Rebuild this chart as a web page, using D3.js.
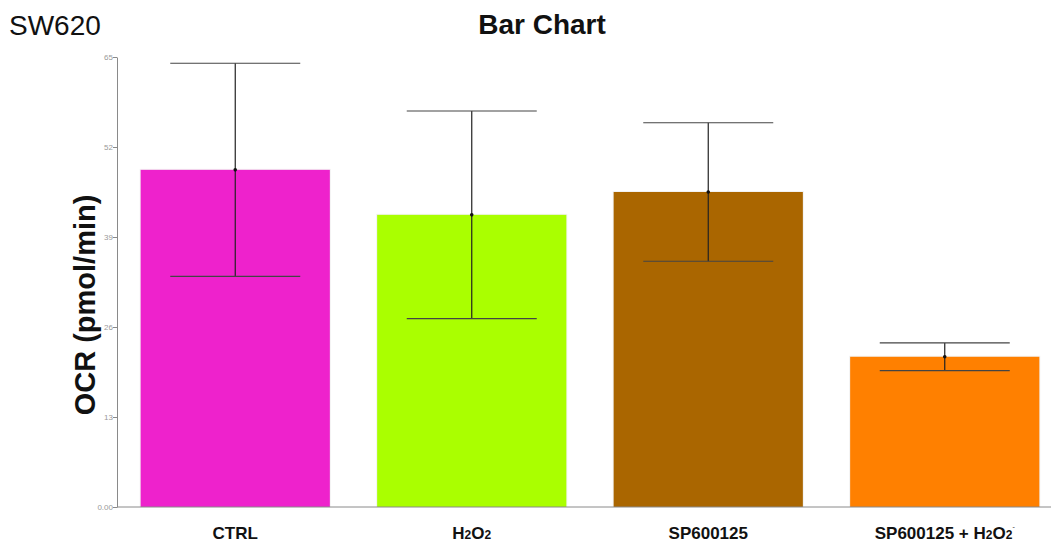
<!DOCTYPE html>
<html>
<head>
<meta charset="utf-8">
<script src="https://cdn.jsdelivr.net/npm/d3@7"></script>
<style>
  html, body { margin: 0; padding: 0; background: #fff; }
  svg { display: block; font-family: "Liberation Sans", Arial, sans-serif; }
</style>
</head>
<body>
<svg id="chart" width="1051" height="543"></svg>
<script>
// OCR measurements for SW620 cells
const categories = ["CTRL", "H2O2", "SP600125", "SP600125 + H2O2"];
const means = [48.7, 42.2, 45.5, 21.7];
const errors = [15.4, 15.0, 10.0, 2.0];
const colors = ["#ee22cc", "#aaff00", "#aa6600", "#ff8000"];
const yTicks = [0, 13, 26, 39, 52, 65];
const yTickLabels = ["0.00", "13", "26", "39", "52", "65"];

const svg = d3.select("#chart");

const x = d3.scaleBand()
  .domain(categories)
  .range([117, 1063])
  .paddingInner(0.2)
  .paddingOuter(0.1);

const y = d3.scaleLinear()
  .domain([0, 65])
  .range([507, 57]);

// Bars with a faint light halo
const bars = svg.append("g");
bars.selectAll("rect.halo")
  .data(categories)
  .enter().append("rect")
  .attr("x", d => x(d) - 1)
  .attr("y", (d, i) => y(means[i]) - 1)
  .attr("width", x.bandwidth() + 2)
  .attr("height", (d, i) => y(0) - y(means[i]) + 1)
  .attr("fill", "#f2f2f2");
bars.selectAll("rect.bar")
  .data(categories)
  .enter().append("rect")
  .attr("class", "bar")
  .attr("x", d => x(d))
  .attr("y", (d, i) => y(means[i]))
  .attr("width", x.bandwidth())
  .attr("height", (d, i) => y(0) - y(means[i]))
  .attr("fill", (d, i) => colors[i]);

// Axes
const yAxis = d3.axisLeft(y)
  .tickValues(yTicks)
  .tickFormat((d, i) => yTickLabels[i])
  .tickSize(4)
  .tickSizeOuter(0);
const gy = svg.append("g")
  .attr("transform", "translate(117,0)")
  .call(yAxis);
gy.select(".domain").attr("stroke", "#8a8a8a");
gy.selectAll(".tick line").attr("stroke", "#8a8a8a");
gy.selectAll(".tick text")
  .attr("fill", "#999")
  .attr("font-size", 8)
  .attr("x", -4);

svg.append("line")
  .attr("x1", 117).attr("x2", 1051)
  .attr("y1", y(0)).attr("y2", y(0))
  .attr("stroke", "#8a8a8a");

// Error bars
const cap = 65;
const eb = svg.append("g").attr("stroke", "#222").attr("stroke-width", 1.2);
categories.forEach((c, i) => {
  const cx = x(c) + x.bandwidth() / 2;
  eb.append("line")
    .attr("x1", cx).attr("x2", cx)
    .attr("y1", y(means[i] + errors[i])).attr("y2", y(means[i] - errors[i]));
  eb.append("line")
    .attr("x1", cx - cap).attr("x2", cx + cap)
    .attr("y1", y(means[i] + errors[i])).attr("y2", y(means[i] + errors[i]))
    .attr("stroke", "#444");
  eb.append("line")
    .attr("x1", cx - cap).attr("x2", cx + cap)
    .attr("y1", y(means[i] - errors[i])).attr("y2", y(means[i] - errors[i]))
    .attr("stroke", "#444");
  svg.append("circle")
    .attr("cx", cx).attr("cy", y(means[i]))
    .attr("r", 1.8).attr("fill", "#111");
});

// Category labels with chemical subscripts
const labelParts = {
  "CTRL": [["CTRL", false]],
  "H2O2": [["H", false], ["2", true], ["O", false], ["2", true]],
  "SP600125": [["SP600125", false]],
  "SP600125 + H2O2": [["SP600125 + H", false], ["2", true], ["O", false], ["2", true]]
};
categories.forEach(c => {
  const t = svg.append("text")
    .attr("x", x(c) + x.bandwidth() / 2)
    .attr("y", 539)
    .attr("text-anchor", "middle")
    .attr("font-weight", "bold")
    .attr("font-size", 17)
    .attr("fill", "#111");
  labelParts[c].forEach(([s, sub]) => {
    t.append("tspan")
      .attr("font-size", sub ? 12 : 17)
      .text(s);
  });
  if (c === "SP600125 + H2O2") {
    t.append("tspan").attr("font-size", 7).attr("dy", -10).attr("fill", "#777").text("-");
  }
});

// Titles
svg.append("text")
  .attr("x", 542).attr("y", 34)
  .attr("text-anchor", "middle")
  .attr("font-weight", "bold")
  .attr("font-size", 28)
  .attr("fill", "#111")
  .text("Bar Chart");

svg.append("text")
  .attr("x", 9).attr("y", 35)
  .attr("font-size", 28)
  .attr("fill", "#111")
  .text("SW620");

svg.append("text")
  .attr("transform", "translate(95,305) rotate(-90)")
  .attr("text-anchor", "middle")
  .attr("font-weight", "bold")
  .attr("font-size", 29)
  .attr("fill", "#111")
  .text("OCR (pmol/min)");
</script>
</body>
</html>
